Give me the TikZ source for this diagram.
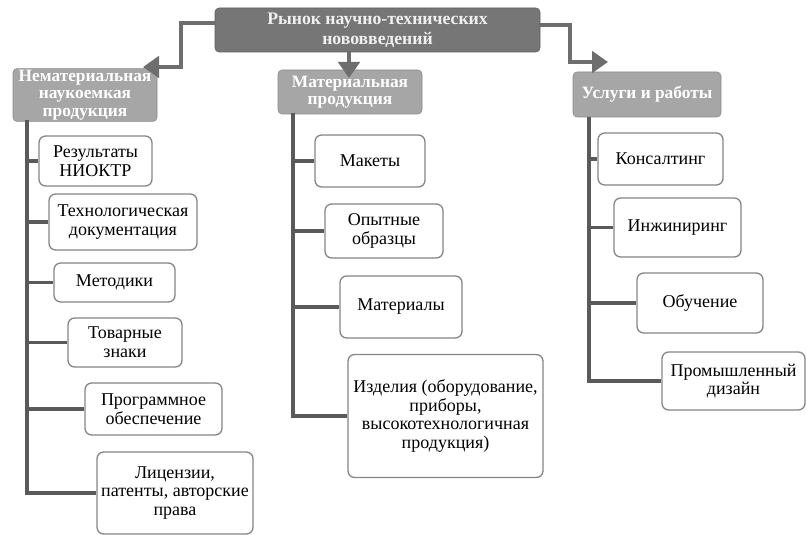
\documentclass[tikz,border=0pt]{standalone}
\usepackage{fontspec}
\setmainfont{Liberation Serif}
\usetikzlibrary{arrows.meta}

\definecolor{topgray}{HTML}{767676}
\definecolor{topline}{HTML}{5E5E5E}
\definecolor{headgray}{HTML}{A6A6A6}
\definecolor{headline}{HTML}{8A8A8A}
\definecolor{itemline}{HTML}{858585}
\definecolor{arrowgray}{HTML}{6E6E6E}
\definecolor{linegray}{HTML}{5A5A5A}

\begin{document}
\begin{tikzpicture}[
    x=0.75pt, y=-0.75pt,
    every node/.style={align=center, inner sep=1pt, font=\fontsize{13.5}{14}\selectfont},
    topbox/.style={draw=topline, fill=topgray, rounded corners=3pt, text=white!94!black, font=\bfseries\fontsize{13.25}{15}\selectfont},
    headbox/.style={draw=headline, fill=headgray, rounded corners=3pt, text=white, font=\bfseries\fontsize{13}{13.2}\selectfont},
    item/.style={draw=itemline, fill=white, line width=1pt, rounded corners=5pt},
    feed/.style={draw=arrowgray, line width=3pt, -{Triangle[length=12pt,width=16pt]}},
    branch/.style={draw=linegray, line width=2.3pt}
]
\useasboundingbox (0,0) rectangle (807,535);

% Root and the three groups
\node[topbox, minimum width=243.75pt, minimum height=33pt] (market) at (377.5,30) {Рынок научно-технических\\нововведений};
\node[headbox, minimum width=108pt, minimum height=39pt] (intang) at (85,95) {Нематериальная\\наукоемкая\\продукция};
\node[headbox, minimum width=108pt, minimum height=33pt] (mater) at (350,92) {Материальная\\продукция};
\node[headbox, minimum width=111pt, minimum height=33.75pt] (serv) at (647,94.5) {Услуги и работы};

% Intangible products (left column)
\node[item, minimum width=84.75pt, minimum height=37.5pt] (niokr) at (95.5,161) {Результаты\\НИОКТР};
\node[item, minimum width=111pt, minimum height=42pt] (techdoc) at (123,222) {Технологическая\\документация};
\node[item, minimum width=90.75pt, minimum height=29.25pt] (method) at (114.5,282.5) {Методики};
\node[item, minimum width=85.5pt, minimum height=36.75pt] (marks) at (125,342.5) {Товарные\\знаки};
\node[item, minimum width=102.75pt, minimum height=39pt] (soft) at (153.5,409) {Программное\\обеспечение};
\node[item, minimum width=117pt, minimum height=61.5pt] (licen) at (175,493) {Лицензии,\\патенты, авторские\\права};

% Material products (middle column)
\node[item, minimum width=82.5pt, minimum height=39pt] (mockup) at (370,161) {Макеты};
\node[item, minimum width=88.5pt, minimum height=40.5pt] (proto) at (384,231) {Опытные\\образцы};
\node[item, minimum width=91.5pt, minimum height=46.5pt] (stuff) at (401,307) {Материалы};
\node[item, minimum width=146.25pt, minimum height=92.25pt] (goods) at (445.5,416) {Изделия (оборудование,\\приборы,\\высокотехнологичная\\продукция)};

% Services and works (right column)
\node[item, minimum width=93.75pt, minimum height=39pt] (consult) at (660.5,159) {Консалтинг};
\node[item, minimum width=95.25pt, minimum height=44.25pt] (engin) at (677.5,227.5) {Инжиниринг};
\node[item, minimum width=94.5pt, minimum height=45pt] (train) at (700,303) {Обучение};
\node[item, minimum width=107.25pt, minimum height=43.5pt] (design) at (733.5,381) {Промышленный\\дизайн};

% Bent arrows from the root
\coordinate (bendL) at (181,67);
\coordinate (tipL) at (143,67);
\coordinate (tipM) at (349,78);
\coordinate (bendR) at (570,62);
\coordinate (tipR) at (608,62);
\draw[feed] ([yshift=5.25pt]market.west) -| (bendL) -- (tipL);
\draw[feed] (market.south -| tipM) -- (tipM);
\draw[feed] ([yshift=3.75pt]market.east) -| (bendR) -- (tipR);

% Trunks and branches
\coordinate (trunkL) at (27,120);
\coordinate (trunkM) at (293,113);
\coordinate (trunkR) at (589,117);
\foreach \c in {niokr,techdoc,method,marks,soft,licen}
  \draw[branch] (trunkL) |- (\c.west);
\foreach \c in {mockup,proto,stuff,goods}
  \draw[branch] (trunkM) |- (\c.west);
\foreach \c in {consult,engin,train,design}
  \draw[branch] (trunkR) |- (\c.west);

\end{tikzpicture}
\end{document}
